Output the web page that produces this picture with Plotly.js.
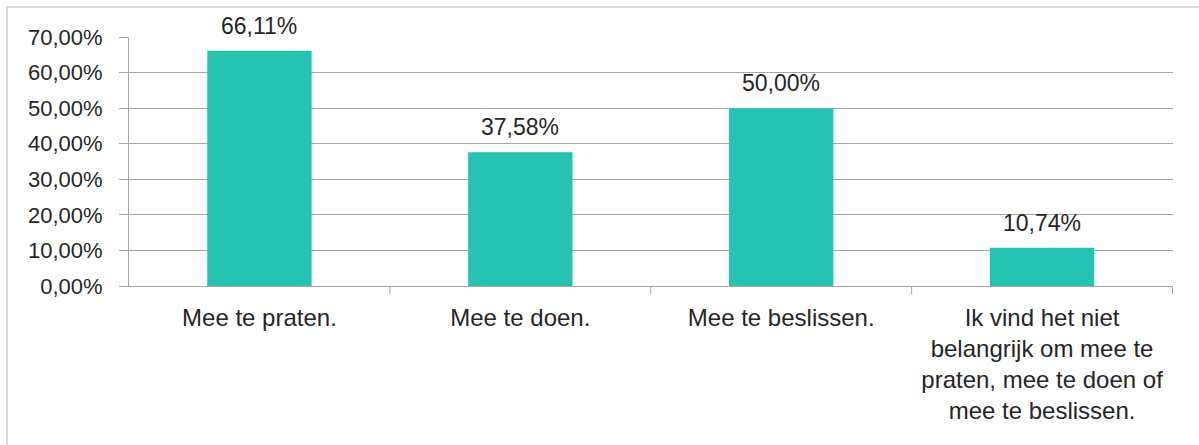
<!DOCTYPE html>
<html>
<head>
<meta charset="utf-8">
<script src="https://cdn.plot.ly/plotly-3.0.1.min.js"></script>
<style>
html,body{margin:0;padding:0;background:#fff;}
#wrap{position:relative;width:1199px;height:445px;overflow:hidden;}
#chart{width:1199px;height:445px;}
#frame{position:absolute;left:6px;top:6px;width:1300px;height:500px;border-left:2px solid #d9d9d9;border-top:2px solid #d9d9d9;pointer-events:none;}
</style>
</head>
<body>
<div id="wrap"><div id="chart"></div><div id="frame"></div></div>
<script>
const categories = [
  "Mee te praten.",
  "Mee te doen.",
  "Mee te beslissen.",
  "Ik vind het niet<br>belangrijk om mee te<br>praten, mee te doen of<br>mee te beslissen."
];
const values = [0.6611, 0.3758, 0.5000, 0.1074];
const valueLabels = ["66,11%", "37,58%", "50,00%", "10,74%"];
const yTicks = [0, 0.1, 0.2, 0.3, 0.4, 0.5, 0.6, 0.7];

const family = "Liberation Sans, Arial, sans-serif";
const font = {family: family, size: 22, color: "#262626"};
const xFont = {family: family, size: 24, color: "#262626"};
const labelFont = {family: family, size: 23, color: "#262626"};

Plotly.newPlot("chart", [{
  type: "bar",
  x: categories,
  y: values,
  marker: {color: "#26C2B2"},
  width: 0.4,
  hoverinfo: "none"
}], {
  width: 1199,
  height: 445,
  margin: {l: 129, r: 26, t: 37, b: 159},
  separators: ",.",
  paper_bgcolor: "#fff",
  plot_bgcolor: "#fff",
  font: font,
  showlegend: false,
  bargap: 0.6,
  xaxis: {
    type: "category",
    showgrid: false,
    showline: true,
    linecolor: "#a6a6a6",
    linewidth: 1,
    ticks: "",
    tickfont: xFont,
    ticklabelstandoff: 10,
    fixedrange: true
  },
  yaxis: {
    range: [0, 0.7],
    tickvals: yTicks,
    tickformat: ".2%",
    showgrid: true,
    gridcolor: "#a6a6a6",
    gridwidth: 1,
    showline: true,
    linecolor: "#a6a6a6",
    ticks: "outside",
    ticklen: 9,
    tickcolor: "#a6a6a6",
    tickfont: font,
    ticklabelstandoff: 12,
    zeroline: false,
    fixedrange: true
  },
  annotations: categories.map((c, i) => ({
    x: c, y: values[i], xref: "x", yref: "y",
    text: valueLabels[i],
    showarrow: false, yanchor: "bottom", yshift: 10,
    font: labelFont
  })),
  shapes: [1, 2, 3, 4].map(i => ({
    type: "line", xref: "x", yref: "paper",
    x0: i - 0.5, x1: i - 0.5, y0: 0, y1: -0.032,
    line: {color: "#a6a6a6", width: 1}
  }))
}, {staticPlot: true});
</script>
</body>
</html>
